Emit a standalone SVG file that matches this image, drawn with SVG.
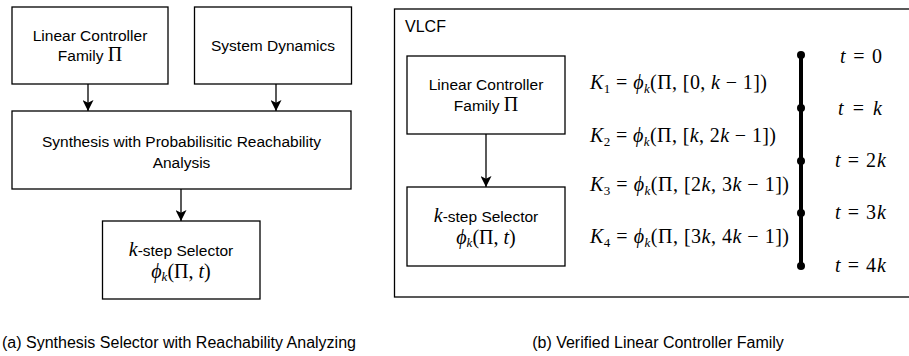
<svg xmlns="http://www.w3.org/2000/svg" width="909" height="356" viewBox="0 0 909 356">
<style>
.box{fill:#fff;stroke:#000;stroke-width:1.3}
.t{font-family:"Liberation Sans",Arial,sans-serif;font-size:15.5px;fill:#000;text-anchor:middle}
.cap{font-family:"Liberation Sans",Arial,sans-serif;font-size:16px;fill:#000}
.m{font-family:"Liberation Serif","Times New Roman",serif;font-size:20px;fill:#000}
.i{font-style:italic}
.s{font-size:13px}
.edge{stroke:#000;stroke-width:1.3;fill:none}
</style>
<defs>
<marker id="ah2" viewBox="0 0 10 10" refX="10" refY="5" markerWidth="11" markerHeight="11" markerUnits="userSpaceOnUse" orient="auto">
<path d="M0,0 L10,5 L0,10 L2.5,5 z" fill="#000"/>
</marker>
</defs>

<g id="a-lcf">
<rect class="box" x="12" y="7" width="156" height="77"/>
<text class="t" x="90" y="41">Linear Controller</text>
<text class="t" x="90" y="61">Family <tspan class="m" font-size="19">Π</tspan></text>
</g>
<g id="a-sysdyn">
<rect class="box" x="194.5" y="7" width="157" height="77"/>
<text class="t" x="273" y="51">System Dynamics</text>
</g>
<g id="a-synth">
<rect class="box" x="12" y="111" width="339" height="78"/>
<text class="t" x="181.5" y="147">Synthesis with Probabilisitic Reachability</text>
<text class="t" x="181.5" y="168">Analysis</text>
</g>
<g id="a-kstep">
<rect class="box" x="102.5" y="221" width="157.5" height="78"/>
<text class="t" x="181" y="256"><tspan class="m i" font-size="19">k</tspan>-step Selector</text>
<text class="m" x="181" y="278" text-anchor="middle"><tspan class="i">ϕ</tspan><tspan class="i s" dy="3">k</tspan><tspan dy="-3">(Π, </tspan><tspan class="i">t</tspan>)</text>
</g>
<g id="a-connectors">
<line class="edge" x1="88" y1="84" x2="88" y2="111" marker-end="url(#ah2)"/>
<line class="edge" x1="276" y1="84" x2="276" y2="111" marker-end="url(#ah2)"/>
<line class="edge" x1="181" y1="189" x2="181" y2="221" marker-end="url(#ah2)"/>
</g>
<text class="cap" x="2" y="348">(a) Synthesis Selector with Reachability Analyzing</text>

<g id="vlcf">
<rect class="box" x="394.5" y="9" width="520" height="288"/>
<text class="cap" x="405" y="32" font-size="15">VLCF</text>
</g>
<g id="b-lcf">
<rect class="box" x="407" y="56" width="158" height="78"/>
<text class="t" x="486" y="90">Linear Controller</text>
<text class="t" x="486" y="111">Family <tspan class="m" font-size="19">Π</tspan></text>
</g>
<g id="b-kstep">
<rect class="box" x="407" y="187" width="158" height="79"/>
<text class="t" x="486" y="222"><tspan class="m i" font-size="19">k</tspan>-step Selector</text>
<text class="m" x="486" y="244" text-anchor="middle"><tspan class="i">ϕ</tspan><tspan class="i s" dy="3">k</tspan><tspan dy="-3">(Π, </tspan><tspan class="i">t</tspan>)</text>
</g>
<g id="b-connectors">
<line class="edge" x1="486" y1="134" x2="486" y2="187" stroke-width="1" marker-end="url(#ah2)"/>
</g>
<g id="formulas">
<text class="m" x="590" y="89" textLength="177" lengthAdjust="spacing"><tspan class="i">K</tspan><tspan class="s" dy="4">1</tspan><tspan dy="-4"> = </tspan><tspan class="i">ϕ</tspan><tspan class="i s" dy="4">k</tspan><tspan dy="-4">(Π, [0, </tspan><tspan class="i">k</tspan> − 1])</text>
<text class="m" x="590" y="142" textLength="186" lengthAdjust="spacing"><tspan class="i">K</tspan><tspan class="s" dy="4">2</tspan><tspan dy="-4"> = </tspan><tspan class="i">ϕ</tspan><tspan class="i s" dy="4">k</tspan><tspan dy="-4">(Π, [</tspan><tspan class="i">k</tspan>, 2<tspan class="i">k</tspan> − 1])</text>
<text class="m" x="590" y="191" textLength="199" lengthAdjust="spacing"><tspan class="i">K</tspan><tspan class="s" dy="4">3</tspan><tspan dy="-4"> = </tspan><tspan class="i">ϕ</tspan><tspan class="i s" dy="4">k</tspan><tspan dy="-4">(Π, [2</tspan><tspan class="i">k</tspan>, 3<tspan class="i">k</tspan> − 1])</text>
<text class="m" x="590" y="243" textLength="199" lengthAdjust="spacing"><tspan class="i">K</tspan><tspan class="s" dy="4">4</tspan><tspan dy="-4"> = </tspan><tspan class="i">ϕ</tspan><tspan class="i s" dy="4">k</tspan><tspan dy="-4">(Π, [3</tspan><tspan class="i">k</tspan>, 4<tspan class="i">k</tspan> − 1])</text>
</g>
<g id="timeline">
<line x1="801" y1="55" x2="801" y2="266" stroke="#000" stroke-width="4"/>
<circle cx="801" cy="55" r="4"/>
<circle cx="801" cy="108" r="4"/>
<circle cx="801" cy="161" r="4"/>
<circle cx="801" cy="213" r="4"/>
<circle cx="801" cy="266" r="4"/>
<text class="m" x="840" y="63" textLength="42" lengthAdjust="spacing"><tspan class="i">t</tspan> = 0</text>
<text class="m" x="838" y="115" textLength="44" lengthAdjust="spacing"><tspan class="i">t</tspan> = <tspan class="i">k</tspan></text>
<text class="m" x="835" y="167" textLength="51" lengthAdjust="spacing"><tspan class="i">t</tspan> = 2<tspan class="i">k</tspan></text>
<text class="m" x="835" y="219" textLength="51" lengthAdjust="spacing"><tspan class="i">t</tspan> = 3<tspan class="i">k</tspan></text>
<text class="m" x="835" y="272" textLength="51" lengthAdjust="spacing"><tspan class="i">t</tspan> = 4<tspan class="i">k</tspan></text>
</g>
<text class="cap" x="658" y="348" text-anchor="middle">(b) Verified Linear Controller Family</text>
</svg>
